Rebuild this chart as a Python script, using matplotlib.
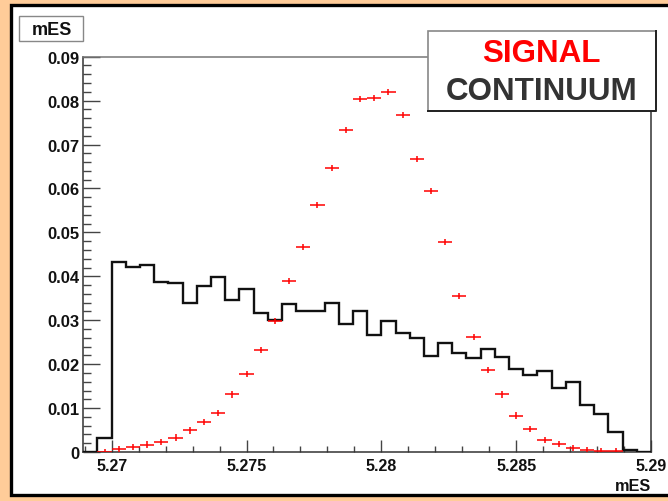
import numpy as np
import matplotlib
matplotlib.use("Agg")
import matplotlib.pyplot as plt
from matplotlib.patches import Rectangle
from matplotlib.lines import Line2D
from matplotlib.ticker import MultipleLocator, FixedLocator, FixedFormatter

# Histogram binning: 57 bins over [5.26, 5.29], shown from bin 17 onward
bin_lo, bin_hi, n_bins, first_bin = 5.26, 5.29, 57, 17

# Continuum (black histogram), one value per displayed bin
continuum = [
    0.0, 0.0032, 0.0433, 0.0421, 0.0426, 0.0387, 0.0384, 0.0339, 0.0379, 0.0398,
    0.0345, 0.0370, 0.0317, 0.0301, 0.0336, 0.0320, 0.0320, 0.0339, 0.0292, 0.0320,
    0.0267, 0.0299, 0.0271, 0.0260, 0.0219, 0.0248, 0.0225, 0.0213, 0.0235, 0.0216,
    0.0188, 0.0175, 0.0185, 0.0145, 0.0159, 0.0108, 0.0087, 0.0046, 0.0005, 0.0,
]

# Signal (red points), displayed bins 1..37
signal_first = 1
signal = [
    0.0000, 0.0007, 0.0011, 0.0017, 0.0022, 0.0033, 0.0049, 0.0069, 0.0088, 0.0131,
    0.0178, 0.0233, 0.0299, 0.0389, 0.0466, 0.0563, 0.0646, 0.0733, 0.0803, 0.0806,
    0.0819, 0.0768, 0.0667, 0.0594, 0.0478, 0.0356, 0.0261, 0.0187, 0.0131, 0.0083,
    0.0052, 0.0028, 0.0018, 0.0009, 0.0005, 0.0002, 0.0002,
]
signal_err = 0.0007

x_ticks = [5.27, 5.275, 5.28, 5.285, 5.29]
x_tick_labels = ["5.27", "5.275", "5.28", "5.285", "5.29"]
y_ticks = [0, 0.01, 0.02, 0.03, 0.04, 0.05, 0.06, 0.07, 0.08, 0.09]
y_tick_labels = ["0", "0.01", "0.02", "0.03", "0.04", "0.05", "0.06", "0.07", "0.08", "0.09"]

plt.rcParams["font.family"] = ["Liberation Sans", "DejaVu Sans"]
plt.rcParams["font.weight"] = "bold"

W, H = 668, 502
fig = plt.figure(figsize=(W / 100, H / 100), dpi=100)
fig.patch.set_facecolor("#FFCC99")

def fx(px):
    return px / W

def fy(py):
    return 1 - py / H

# White canvas with black border
fig.patches.append(Rectangle((fx(10.5), fy(496)), fx(700) - fx(10.5), fy(6) - fy(496),
                             transform=fig.transFigure, facecolor="white",
                             edgecolor="black", linewidth=2.4, zorder=0))

ax = fig.add_axes([fx(83.3), fy(453), fx(651) - fx(83.3), fy(57.7) - fy(453)])
ax.set_zorder(2)
ax.set_facecolor("white")

edges = np.linspace(bin_lo, bin_hi, n_bins + 1)[first_bin:]
centers = 0.5 * (edges[:-1] + edges[1:])
half_w = 0.5 * (edges[1] - edges[0])

ax.stairs(continuum, edges, color="#111111", linewidth=1.7, baseline=0, zorder=3)

sx = centers[signal_first:signal_first + len(signal)]
ax.errorbar(sx, signal, xerr=half_w, yerr=signal_err, fmt="none",
            ecolor="#FF0000", elinewidth=1.1, capsize=0, zorder=4)

ax.set_xlim(edges[0], edges[-1])
ax.set_ylim(0, 0.09)

ax.xaxis.set_major_locator(FixedLocator(x_ticks))
ax.xaxis.set_major_formatter(FixedFormatter(x_tick_labels))
ax.xaxis.set_minor_locator(MultipleLocator(0.001))
ax.yaxis.set_major_locator(FixedLocator(y_ticks))
ax.yaxis.set_major_formatter(FixedFormatter(y_tick_labels))
ax.yaxis.set_minor_locator(MultipleLocator(0.002))

ax.tick_params(axis="x", which="major", direction="in", length=9, width=1.0,
               color="#444444", labelsize=11.5, pad=4, top=False)
ax.tick_params(axis="x", which="minor", direction="in", length=4.5, width=1.0,
               color="#444444", top=False)
ax.tick_params(axis="y", which="major", direction="in", length=12, width=1.0,
               color="#444444", labelsize=12, pad=2.5, right=False)
ax.tick_params(axis="y", which="minor", direction="in", length=6, width=1.0,
               color="#444444", right=False)
for lab in ax.get_xticklabels() + ax.get_yticklabels():
    lab.set_fontweight("bold")
    lab.set_color("#111111")

for s in ax.spines.values():
    s.set_color("#333333")
    s.set_linewidth(1.1)
ax.spines["top"].set_color("#777777")

# Axis title at the right end of the x axis
fig.text(fx(651), fy(487), "mES", ha="right", va="center", fontsize=11.7,
         fontweight="bold", color="#111111", zorder=6)

# Histogram title box
fig.patches.append(Rectangle((fx(19), fy(42.3)), fx(83.3) - fx(19), fy(16.7) - fy(42.3),
                             transform=fig.transFigure, facecolor="white",
                             edgecolor="#888888", linewidth=1.0, zorder=5))
fig.text(fx(51.5), fy(30.5), "mES", ha="center", va="center", fontsize=13,
         fontweight="bold", color="#111111", zorder=6)

# Legend box
bx0, by0, bx1, by1 = 428.3, 31.7, 655.7, 111.7
fig.patches.append(Rectangle((fx(bx0), fy(by1)), fx(bx1) - fx(bx0), fy(by0) - fy(by1),
                             transform=fig.transFigure, facecolor="white",
                             edgecolor="#888888", linewidth=1.2, zorder=5))
fig.add_artist(Line2D([fx(bx0), fx(bx1), fx(bx1)], [fy(by1), fy(by1), fy(by0)],
                      transform=fig.transFigure, color="#222222", linewidth=1.4, zorder=6))
fig.text(fx(541.7), fy(54), "SIGNAL", ha="center", va="center", fontsize=22.6,
         fontweight="bold", color="#FF0000", zorder=7)
fig.text(fx(541.7), fy(92), "CONTINUUM", ha="center", va="center", fontsize=22.6,
         fontweight="bold", color="#333333", zorder=7)

fig.savefig("out.png", dpi=100, facecolor=fig.get_facecolor())
